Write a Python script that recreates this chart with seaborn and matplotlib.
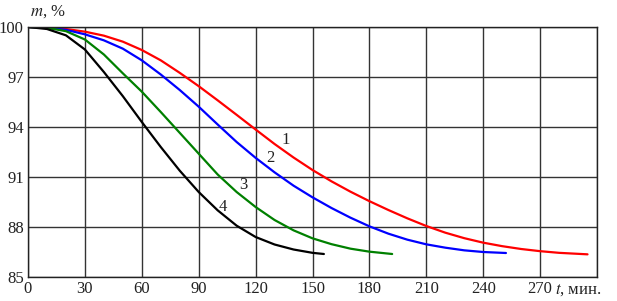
import numpy as np
import pandas as pd
import matplotlib
matplotlib.use("Agg")
import matplotlib.pyplot as plt
import seaborn as sns

# mass loss curves
t1 = [0, 10, 20, 30, 40, 50, 60, 70, 80, 90, 100, 110, 120, 130, 140, 150, 160, 170, 180, 190,
      200, 210, 220, 230, 240, 250, 260, 270, 280, 295]
m1 = [100, 99.97, 99.88, 99.72, 99.48, 99.12, 98.62, 98.0, 97.25, 96.45, 95.6, 94.73, 93.85,
      92.98, 92.17, 91.42, 90.74, 90.12, 89.55, 89.02, 88.52, 88.06, 87.66, 87.33, 87.06, 86.85,
      86.68, 86.55, 86.45, 86.36]

t2 = [0, 10, 20, 30, 40, 50, 60, 70, 80, 90, 100, 110, 120, 130, 140, 150, 160, 170, 180, 190,
      200, 210, 220, 230, 240, 252]
m2 = [100, 99.96, 99.83, 99.56, 99.2, 98.7, 98.0, 97.15, 96.22, 95.22, 94.15, 93.1, 92.15, 91.28,
      90.48, 89.78, 89.14, 88.56, 88.04, 87.6, 87.24, 86.96, 86.76, 86.6, 86.5, 86.44]

t3 = [0, 10, 20, 30, 40, 50, 60, 70, 80, 90, 100, 110, 120, 130, 140, 150, 160, 170, 180, 192]
m3 = [100, 99.95, 99.75, 99.25, 98.35, 97.22, 96.12, 94.9, 93.65, 92.4, 91.15, 90.1, 89.2, 88.42,
      87.8, 87.32, 86.97, 86.7, 86.52, 86.38]

t4 = [0, 10, 20, 30, 40, 50, 60, 70, 80, 90, 100, 110, 120, 130, 140, 150, 156]
m4 = [100, 99.88, 99.5, 98.65, 97.3, 95.85, 94.3, 92.8, 91.38, 90.1, 89.0, 88.08, 87.4, 86.95,
      86.65, 86.45, 86.38]

curve_names = ["1", "2", "3", "4"]
curve_colors = ["#ff0000", "#0000ff", "#008000", "#000000"]
label_pos = [(136, 93.22), (128, 92.14), (113.3, 90.52), (102.8, 89.2)]

x_ticks = [0, 30, 60, 90, 120, 150, 180, 210, 240, 270, 300]
y_ticks = [85, 88, 91, 94, 97, 100]

df = pd.concat([
    pd.DataFrame({"t": t, "m": m, "curve": n})
    for t, m, n in zip([t1, t2, t3, t4], [m1, m2, m3, m4], curve_names)
])

sns.set_style("white")
plt.rcParams["font.family"] = ["Liberation Serif", "DejaVu Serif"]
plt.rcParams["mathtext.fontset"] = "stix"

fig = plt.figure(figsize=(6.17, 3.01), dpi=100)
ax = fig.add_axes([28 / 617, 1 - 277 / 301, (597 - 28) / 617, (277 - 27) / 301])

sns.lineplot(data=df, x="t", y="m", hue="curve", palette=curve_colors,
             linewidth=1.6, legend=False, ax=ax, sort=False)

for (lx, ly), name in zip(label_pos, curve_names):
    ax.text(lx, ly, name, fontsize=12, color="#222222", ha="center", va="center")

ax.set_xlim(0, 300)
ax.set_ylim(85, 100)
ax.set_xticks(x_ticks)
ax.set_yticks(y_ticks)
ax.set_xticklabels([str(v) for v in x_ticks[:-1]] + [""])
ax.grid(True, color="#333333", linewidth=1.0)
for s in ax.spines.values():
    s.set_color("#222222")
    s.set_linewidth(1.0)
ax.tick_params(length=0, labelsize=12, pad=3, colors="#222222")
ax.set_xlabel("")
ax.set_ylabel("")

fig.text(30 / 617, 1 - 12 / 301, r"$m$, %", fontsize=12, ha="left", va="center", color="#222222")
fig.text(555 / 617, 1 - 290 / 301, r"$t$, мин.", fontsize=12, ha="left", va="center", color="#222222")

fig.savefig("out.png", dpi=100)
